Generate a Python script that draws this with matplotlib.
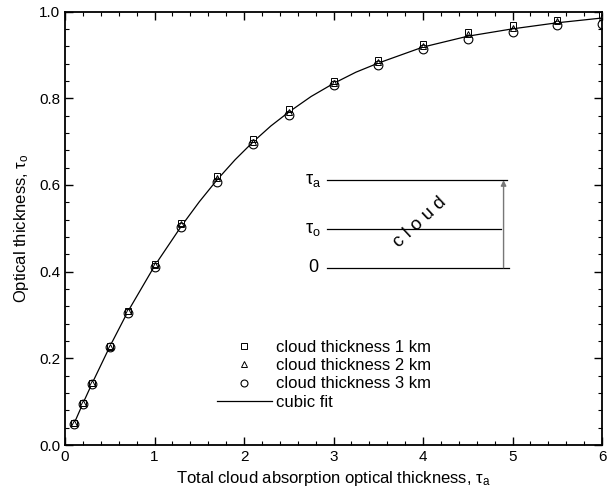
import numpy as np
import matplotlib.pyplot as plt
from matplotlib.lines import Line2D
from matplotlib.ticker import MultipleLocator

plt.rcParams['font.family'] = ['Liberation Sans', 'DejaVu Sans']
plt.rcParams['mathtext.fontset'] = 'custom'
plt.rcParams['mathtext.rm'] = 'Liberation Sans'
plt.rcParams['mathtext.it'] = 'Liberation Sans:italic'

# Dane
tau_a = [0.1, 0.2, 0.3, 0.5, 0.7, 1.0, 1.3, 1.7, 2.1, 2.5, 3.0, 3.5, 4.0, 4.5, 5.0, 5.5, 6.0]
tau_1km = [0.050, 0.098, 0.143, 0.228, 0.310, 0.418, 0.512, 0.620, 0.705, 0.774, 0.840, 0.888, 0.926, 0.953, 0.968, 0.981, 0.992]
tau_2km = [0.050, 0.097, 0.142, 0.227, 0.308, 0.415, 0.509, 0.615, 0.700, 0.769, 0.836, 0.884, 0.921, 0.948, 0.963, 0.977, 0.988]
tau_3km = [0.048, 0.095, 0.140, 0.226, 0.304, 0.410, 0.503, 0.606, 0.694, 0.762, 0.830, 0.876, 0.913, 0.937, 0.952, 0.969, 0.972]

# cubic fit
fit_x = [0.1, 0.2, 0.3, 0.5, 0.7, 1.0, 1.3, 1.5, 1.7, 1.9, 2.1, 2.3, 2.5, 2.75, 3.0, 3.25, 3.5, 4.0, 4.5, 5.0, 5.5, 6.0]
fit_y = [0.049, 0.096, 0.141, 0.227, 0.307, 0.413, 0.505, 0.561, 0.612, 0.658, 0.699, 0.736, 0.768, 0.804, 0.834, 0.860, 0.881, 0.918, 0.943, 0.960, 0.974, 0.985]

# schemat chmury
level_names = [r'$\mathrm{τ}_{\rm a}$', r'$\mathrm{τ}_{\rm o}$', '0']
level_y = [0.611, 0.498, 0.409]
level_end = [4.94, 4.87, 4.96]

fig = plt.figure(figsize=(6.1, 4.96), dpi=100)
ax = fig.add_axes([0.1066, 0.1028, 0.8803, 0.8740])

ax.plot(fit_x, fit_y, color='black', lw=0.9)
ax.plot(tau_a, tau_1km, 's', ms=4.3, mfc='white', mec='black', mew=0.7)
ax.plot(tau_a, tau_2km, '^', ms=4, mfc='none', mec='black', mew=0.7)
ax.plot(tau_a, tau_3km, 'o', ms=6.3, mfc='none', mec='black', mew=0.8)

# schemat
for name, yv, xe in zip(level_names, level_y, level_end):
    ax.plot([2.93, xe], [yv, yv], color='black', lw=0.9)
    ax.text(2.77, yv, name, fontsize=13, ha='center', va='center')
ax.annotate('', xy=(4.90, 0.611), xytext=(4.90, 0.409),
            arrowprops=dict(arrowstyle='-|>', color='#777777', lw=1.0,
                            mutation_scale=8, shrinkA=0, shrinkB=0))
ax.text(3.97, 0.514, 'c l o u d', fontsize=13.5, rotation=43,
        ha='center', va='center', rotation_mode='anchor')

handles = [
    Line2D([], [], ls='none', marker='s', ms=4, mfc='white', mec='black', mew=0.7),
    Line2D([], [], ls='none', marker='^', ms=4, mfc='none', mec='black', mew=0.7),
    Line2D([], [], ls='none', marker='o', ms=5, mfc='none', mec='black', mew=0.8),
    Line2D([], [], color='black', lw=0.9),
]
labels = ['cloud thickness 1 km', 'cloud thickness 2 km', 'cloud thickness 3 km', 'cubic fit']
ax.legend(handles, labels, loc='upper left', bbox_to_anchor=(0.283, 0.243),
          frameon=False, fontsize=12, handlelength=3.3, handletextpad=0.25,
          labelspacing=0.2, borderpad=0, borderaxespad=0)

ax.set_xlim(0, 6)
ax.set_ylim(0, 1)
ax.xaxis.set_major_locator(MultipleLocator(1))
ax.xaxis.set_minor_locator(MultipleLocator(0.2))
ax.yaxis.set_major_locator(MultipleLocator(0.2))
ax.yaxis.set_minor_locator(MultipleLocator(0.04))
ax.yaxis.set_major_formatter(plt.FormatStrFormatter('%.1f'))
ax.tick_params(which='both', direction='in', top=True, right=True, labelsize=11)
ax.tick_params(which='major', length=6, width=1)
ax.tick_params(which='minor', length=3, width=0.8)
for s in ax.spines.values():
    s.set_linewidth(1.3)

ax.set_xlabel(r'Total cloud absorption optical thickness, $\mathrm{τ}_{\rm a}$', fontsize=12, labelpad=4)
ax.set_ylabel(r'Optical thickness, $\mathrm{τ}_{\rm o}$', fontsize=12, labelpad=6)

plt.savefig('out.png', dpi=100)
